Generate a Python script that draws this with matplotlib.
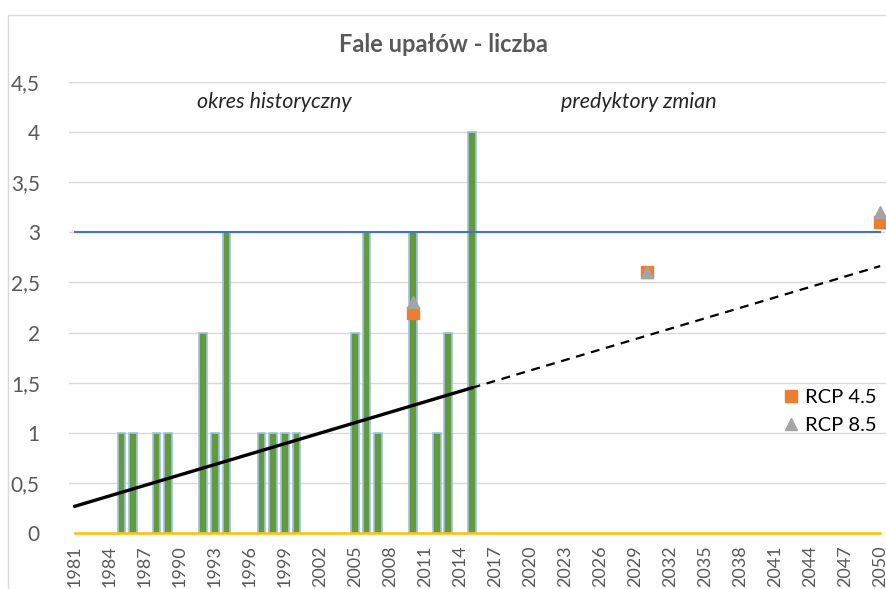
import numpy as np
import matplotlib.pyplot as plt
from matplotlib.patches import Rectangle

plt.rcParams['font.family'] = ['Lato', 'DejaVu Sans']

# historical heat waves (count per year)
years = np.arange(1981, 2051)
hist_years = np.arange(1981, 2016)
wave_years = [1985, 1986, 1988, 1989, 1992, 1993, 1994, 1997, 1998, 1999, 2000,
              2005, 2006, 2007, 2010, 2012, 2013, 2015]
wave_counts = [1, 1, 1, 1, 2, 1, 3, 1, 1, 1, 1, 2, 3, 1, 3, 1, 2, 4]

# projections
rcp_years = [2010, 2030, 2050]
rcp45 = [2.2, 2.6, 3.1]
rcp85 = [2.3, 2.6, 3.2]

threshold = 3
yticks = [0, 0.5, 1, 1.5, 2, 2.5, 3, 3.5, 4, 4.5]
ytick_labels = ['0', '0,5', '1', '1,5', '2', '2,5', '3', '3,5', '4', '4,5']

fig = plt.figure(figsize=(8.87, 5.89), dpi=100)
ax = fig.add_axes([69 / 887, 1 - 533 / 589, 817 / 887, 451 / 589])

txt = '#595959'

# full series incl. zero years -> linear trend
hist_vals = np.zeros(len(hist_years))
for y, c in zip(wave_years, wave_counts):
    hist_vals[y - 1981] = c
a, b = np.polyfit(hist_years, hist_vals, 1)
fut_years = np.arange(2015, 2051)

for v in yticks[1:]:
    ax.axhline(v, color='#d9d9d9', lw=1, zorder=0)

ax.bar(wave_years, wave_counts, width=0.66, color='#629a3c',
       edgecolor='#9dc3e6', linewidth=1.2, zorder=2)

ax.plot(years, np.full(len(years), threshold), color='#4472c4', lw=1.5, zorder=3)
ax.plot(years, np.zeros(len(years)), color='#ffc000', lw=1.8, zorder=3, clip_on=False)

ax.plot(hist_years, a * hist_years + b, color='black', lw=2.4, zorder=4)
ax.plot(fut_years, a * fut_years + b, color='black', lw=1.6, ls=(0, (4, 3)), zorder=4)

ax.plot(rcp_years, rcp45, 's', color='#ed7d31', ms=9, ls='none', label='RCP 4.5',
        zorder=5, clip_on=False)
ax.plot(rcp_years, rcp85, '^', color='#a5a5a5', ms=8, ls='none', label='RCP 8.5',
        zorder=6, clip_on=False)

ax.set_xlim(1980.5, 2050.5)
ax.set_ylim(0, 4.5)
ax.set_xticks(years[::3])
ax.set_xticklabels([str(y) for y in years[::3]], rotation=90)
ax.set_yticks(yticks)
ax.set_yticklabels(ytick_labels)
ax.tick_params(axis='both', length=0, labelcolor=txt)
ax.tick_params(axis='y', pad=21, labelsize=15)
ax.tick_params(axis='x', pad=9, labelsize=13)
for s in ax.spines.values():
    s.set_visible(False)

ax.text(1998.1, 4.3, 'okres historyczny', style='italic', fontsize=15.5,
        ha='center', va='center', color='#262626')
ax.text(2029.3, 4.3, 'predyktory zmian', style='italic', fontsize=15.5,
        ha='center', va='center', color='#262626')

fig.text(443 / 887, 1 - 45 / 589, 'Fale upałów - liczba', fontsize=17,
         fontweight='bold', color=txt, ha='center', va='center')

ax.legend(loc='center left', bbox_to_anchor=(0.862, 0.27), frameon=False,
          fontsize=14.5, handlelength=0.8, handletextpad=0.3, labelspacing=0.55,
          borderpad=0)

fig.patches.append(Rectangle((8 / 887, -0.1), 1.2, 1 - 15 / 589 + 0.1,
                             transform=fig.transFigure, fill=False,
                             edgecolor='#d9d9d9', lw=1, zorder=0))

fig.savefig('out.png', dpi=100)
